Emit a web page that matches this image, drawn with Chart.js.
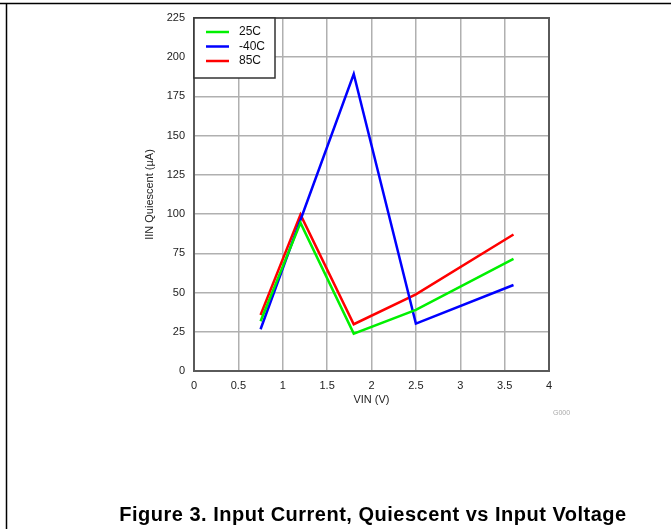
<!DOCTYPE html>
<html>
<head>
<meta charset="utf-8">
<script src="https://cdn.jsdelivr.net/npm/chart.js@4"></script>
<style>
  html, body { margin: 0; padding: 0; background: #fff; }
  #wrap { position: relative; width: 671px; height: 529px; }
  #grafico { position: absolute; left: 0; top: 0; }
  .pie {
    position: absolute; font-family: "Liberation Sans", Arial, sans-serif;
  }
  #titulo { left: 0; width: 746px; top: 503px; text-align: center; font-size: 20px; letter-spacing: 0.5px; font-weight: bold; color: #000; }
  #codigo { left: 553px; top: 409px; font-size: 7px; color: #aaa; }
</style>
</head>
<body>
<div id="wrap">
  <canvas id="grafico" width="671" height="529"></canvas>
  <div class="pie" id="codigo">G000</div>
  <div class="pie" id="titulo">Figure 3. Input Current, Quiescent vs Input Voltage</div>
</div>
<script>
// datos
const series = ['25C', '-40C', '85C'];
const colores = ['#00f000', '#0000ff', '#ff0000'];

const vin25 = [0.75, 1.2, 1.8, 2.5, 3.6];
const iq25 = [31.7, 94.4, 23.8, 38.9, 71.4];

const vinM40 = [0.75, 1.8, 2.5, 3.6];
const iqM40 = [26.6, 189.3, 30.2, 54.8];

const vin85 = [0.75, 1.2, 1.8, 2.5, 3.6];
const iq85 = [35.7, 99.7, 29.8, 48.9, 87];

const ticksX = [0, 0.5, 1, 1.5, 2, 2.5, 3, 3.5, 4];
const ticksY = [0, 25, 50, 75, 100, 125, 150, 175, 200, 225];

const tituloX = 'VIN (V)';
const tituloY = 'IIN Quiescent (µA)';

const puntos = (xs, ys) => xs.map((x, i) => ({ x: x, y: ys[i] }));
const datos = [puntos(vin25, iq25), puntos(vinM40, iqM40), puntos(vin85, iq85)];

const fuente = { family: '"Liberation Sans", Arial, sans-serif', size: 11 };

// marco de la pagina, titulos de ejes y leyenda dentro del area
const extras = {
    id: 'extras',
    beforeDraw(chart) {
        const c = chart.ctx;
        c.save();
        c.strokeStyle = '#000';
        c.lineWidth = 1.5;
        c.beginPath();
        c.moveTo(0, 3.5); c.lineTo(671, 3.5);
        c.moveTo(6.5, 3.5); c.lineTo(6.5, 529);
        c.stroke();
        c.restore();
    },
    afterDraw(chart) {
        const c = chart.ctx;
        const a = chart.chartArea;
        c.save();
        c.font = '11px "Liberation Sans", Arial, sans-serif';
        c.fillStyle = '#222';
        c.textAlign = 'center';
        c.textBaseline = 'middle';
        c.fillText(tituloX, (a.left + a.right) / 2, a.bottom + 29);
        c.save();
        c.translate(a.left - 44, (a.top + a.bottom) / 2);
        c.rotate(-Math.PI / 2);
        c.fillText(tituloY, 0, 0);
        c.restore();

        c.fillStyle = '#fff';
        c.fillRect(a.left, a.top, 81, 60);
        c.strokeStyle = '#333';
        c.lineWidth = 1.5;
        c.strokeRect(a.left, a.top, 81, 60);
        c.font = '12px "Liberation Sans", Arial, sans-serif';
        c.textAlign = 'left';
        chart.data.datasets.forEach((ds, i) => {
            const y = a.top + 14 + i * 14.5;
            c.strokeStyle = ds.borderColor;
            c.lineWidth = 2.5;
            c.beginPath();
            c.moveTo(a.left + 12, y); c.lineTo(a.left + 35, y);
            c.stroke();
            c.fillStyle = '#111';
            c.fillText(ds.label, a.left + 45, y);
        });
        c.restore();
    }
};

new Chart(document.getElementById('grafico').getContext('2d'), {
    type: 'line',
    data: {
        datasets: series.map((s, i) => ({
            label: s,
            data: datos[i],
            borderColor: colores[i],
            borderWidth: 2.5,
            pointRadius: 0,
            tension: 0,
            fill: false
        }))
    },
    options: {
        responsive: false,
        animation: false,
        layout: { padding: { top: 18, right: 122, left: 0, bottom: 0 } },
        plugins: { legend: { display: false }, tooltip: { enabled: false } },
        scales: {
            x: {
                type: 'linear', min: 0, max: 4,
                afterBuildTicks: s => { s.ticks = ticksX.map(v => ({ value: v })); },
                afterFit: s => { s.height = 158; },
                grid: { color: '#b0b0b0', lineWidth: 1.5, drawTicks: false },
                border: { color: '#5a5a5a', width: 2 },
                ticks: { color: '#222', font: fuente, padding: 8, maxRotation: 0, callback: v => String(v) }
            },
            y: {
                min: 0, max: 225,
                afterBuildTicks: s => { s.ticks = ticksY.map(v => ({ value: v })); },
                afterFit: s => { s.width = 194; },
                grid: { color: '#b0b0b0', lineWidth: 1.5, drawTicks: false },
                border: { color: '#5a5a5a', width: 2 },
                ticks: { color: '#222', font: fuente, padding: 9, callback: v => String(v) }
            },
            x2: {
                type: 'linear', position: 'top', min: 0, max: 4, display: true,
                afterFit: s => { s.height = 0; },
                grid: { display: false }, ticks: { display: false },
                border: { color: '#5a5a5a', width: 2 }
            },
            y2: {
                position: 'right', min: 0, max: 225,
                afterFit: s => { s.width = 0; },
                grid: { display: false }, ticks: { display: false },
                border: { color: '#5a5a5a', width: 2 }
            }
        }
    },
    plugins: [extras]
});
</script>
</body>
</html>
